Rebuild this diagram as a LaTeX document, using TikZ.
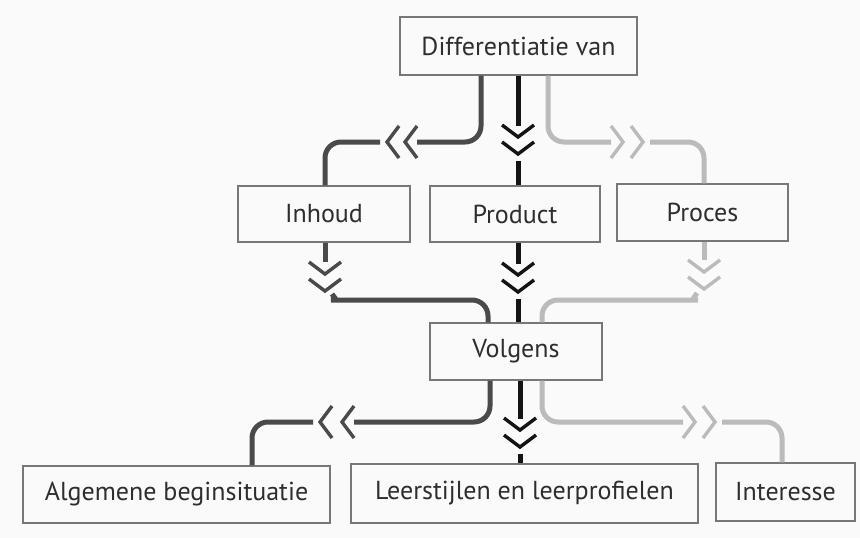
\documentclass[tikz,border=0pt]{standalone}
\usepackage{fontspec}
\setmainfont{PT Sans}
\usetikzlibrary{calc}
\definecolor{bgc}{HTML}{FAFAFA}
\definecolor{boxc}{HTML}{777777}
\definecolor{txtc}{HTML}{2E2E2E}
\definecolor{darkc}{HTML}{4A4A4A}
\definecolor{blackc}{HTML}{141414}
\definecolor{lightc}{HTML}{BBBBBB}
\tikzset{
  box/.style={draw=boxc, line width=1.3pt, rectangle, inner sep=0pt,
    text=txtc, font=\fontsize{26}{31}\selectfont},
  darkln/.style={draw=darkc, line width=5pt},
  blackln/.style={draw=blackc, line width=5pt},
  lightln/.style={draw=lightc, line width=5pt},
  % two chevrons pointing along +x; the first vertex sits at the origin,
  % the second one #1 further on
  chev2/.pic={
    \draw[line width=3.4pt, pic actions]
      (-12,-16) -- (0,0) -- (-12,16)
      ({#1-12},-16) -- (#1,0) -- ({#1-12},16);
  }
}
\begin{document}
\begin{tikzpicture}[x=1pt,y=-1pt]
\fill[bgc] (0,0) rectangle (860,538);
\useasboundingbox (0,0) rectangle (860,538);

% boxes
\node[box, minimum width=237pt, minimum height=58pt] (diff) at (518.5,46) {Differentiatie van};
\node[box, minimum width=172pt, minimum height=56pt] (inhoud) at (324,214) {Inhoud};
\node[box, minimum width=170pt, minimum height=56pt] (product) at (515,214) {Product};
\node[box, minimum width=171pt, minimum height=57pt] (proces) at (702.5,212.5) {Proces};
\node[box, minimum width=172pt, minimum height=57pt] (volgens) at (516,351.5) {Volgens};
\node[box, minimum width=307pt, minimum height=57pt] (alg) at (176.5,494.5) {Algemene beginsituatie};
\node[box, minimum width=347pt, minimum height=59pt] (leer) at (524.5,493.5) {Leerstijlen en leerprofielen};
\node[box, minimum width=139pt, minimum height=58pt] (inter) at (785.5,492) {Interesse};

% chevron positions
\coordinate (tl) at (405,142);
\coordinate (tc) at (518,137);
\coordinate (tr) at (623,142);
\coordinate (ml) at (325,274);
\coordinate (mc) at (518,275);
\coordinate (mr) at (704,272);
\coordinate (bl) at (342,422);
\coordinate (bc) at (520,430);
\coordinate (br) at (695,422);

% Differentiatie van -> Inhoud / Product / Proces
\draw[darkln, rounded corners=16pt] ([xshift=-37.5pt]diff.south) |- ($(tl)+(12,0)$);
\pic[rotate=180, draw=darkc] at (tl) {chev2=18};
\draw[darkln, rounded corners=16pt] ($(tl)+(-25,0)$) -| ([xshift=1pt]inhoud.north);

\draw[blackln] (diff.south -| tc) -- ($(tc)+(0,-11)$);
\pic[rotate=-90, draw=blackc] at (tc) {chev2=17};
\draw[blackln] ($(tc)+(0,24)$) -- (product.north -| tc);

\draw[lightln, rounded corners=16pt] ([xshift=29.5pt]diff.south) |- ($(tr)+(-12,0)$);
\pic[draw=lightc] at (tr) {chev2=20};
\draw[lightln, rounded corners=16pt] ($(tr)+(27,0)$) -| ([xshift=1.5pt]proces.north);

% Inhoud / Product / Proces -> Volgens
\draw[darkln] (inhoud.south -| ml) -- ($(ml)+(0,-12)$);
\pic[rotate=-90, draw=darkc] at (ml) {chev2=17};
\draw[darkln, rounded corners=16pt] ($(ml)+(7,20)$) .. controls ($(ml)+(10,25)$) and ($(ml)+(14,26)$) .. ($(ml)+(22,26)$) -| ([xshift=-28pt]volgens.north);

\draw[blackln] (product.south -| mc) -- ($(mc)+(0,-11)$);
\pic[rotate=-90, draw=blackc] at (mc) {chev2=17};
\draw[blackln] ($(mc)+(0,24)$) -- (volgens.north -| mc);

\draw[lightln] (proces.south -| mr) -- ($(mr)+(0,-12)$);
\pic[rotate=-90, draw=lightc] at (mr) {chev2=17};
\draw[lightln, rounded corners=16pt] ($(mr)+(-7,21)$) .. controls ($(mr)+(-10,26)$) and ($(mr)+(-14,28)$) .. ($(mr)+(-22,28)$) -| ([xshift=26pt]volgens.north);

% Volgens -> bottom row
\draw[darkln, rounded corners=16pt] ([xshift=-26pt]volgens.south) |- ($(bl)+(12,0)$);
\pic[rotate=180, draw=darkc] at (bl) {chev2=22};
\draw[darkln, rounded corners=16pt] ($(bl)+(-29,0)$) -| ([xshift=75.5pt]alg.north);

\draw[blackln] (volgens.south -| bc) -- ($(bc)+(0,-11)$);
\pic[rotate=-90, draw=blackc] at (bc) {chev2=17};
\draw[blackln] ($(bc)+(0,24)$) -- (leer.north -| bc);

\draw[lightln, rounded corners=16pt] ([xshift=26pt]volgens.south) |- ($(br)+(-12,0)$);
\pic[draw=lightc] at (br) {chev2=20};
\draw[lightln, rounded corners=16pt] ($(br)+(27,0)$) -| ([xshift=-3.5pt]inter.north);
\end{tikzpicture}
\end{document}
